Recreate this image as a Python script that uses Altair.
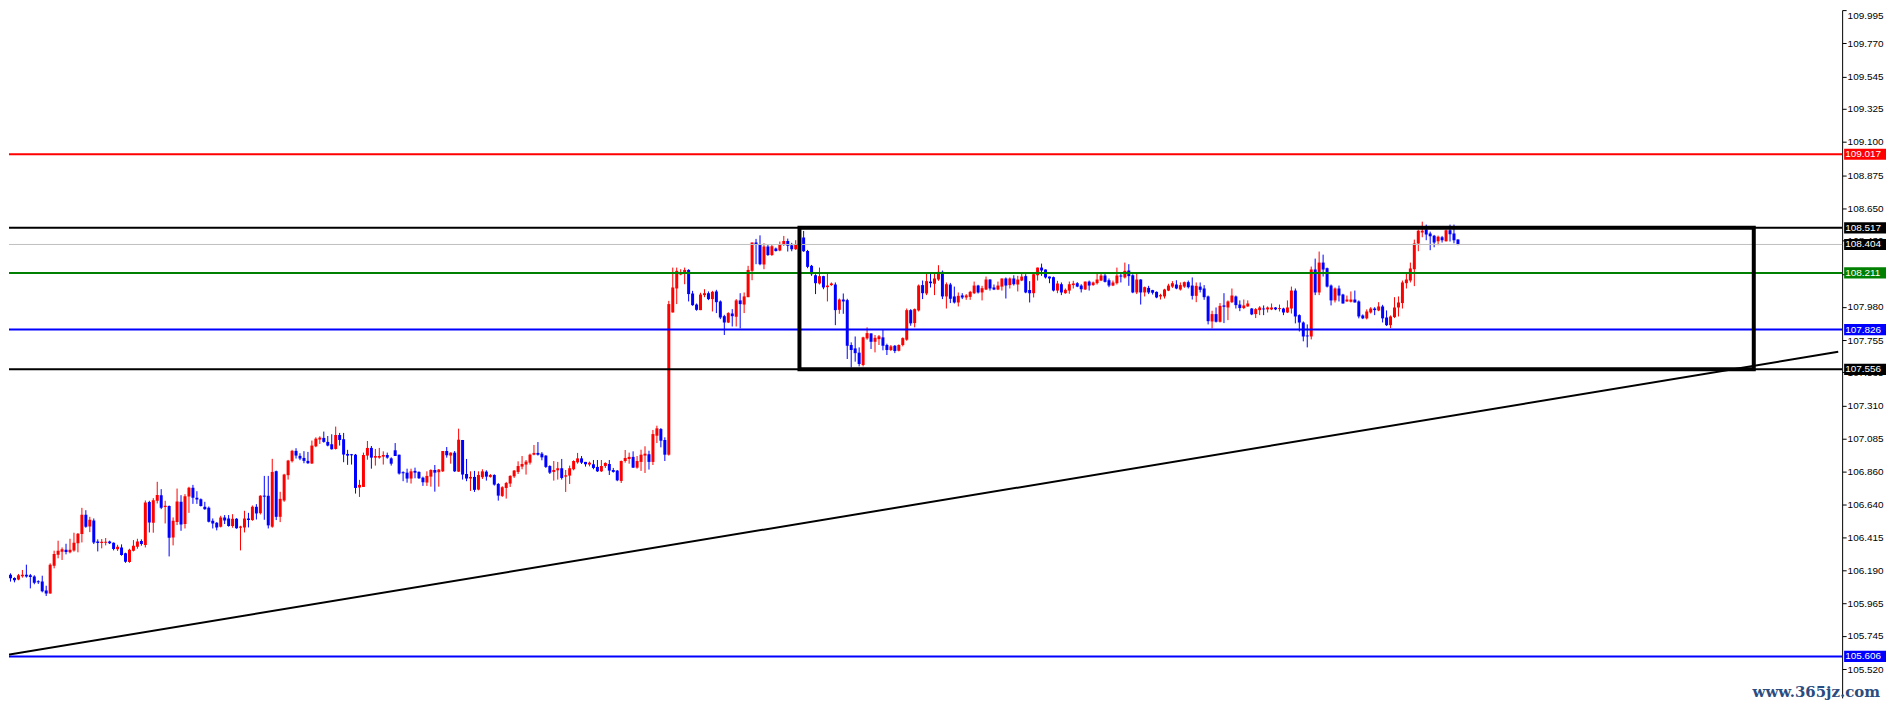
import altair as alt
import pandas as pd

# ---------------- candle data ----------------
opens = [
    106.114, 106.161, 106.138, 106.129, 106.150, 106.161, 106.157, 106.148, 106.116, 106.114,
    106.053, 106.034, 106.222, 106.297, 106.317, 106.331, 106.313, 106.326, 106.374, 106.437,
    106.568, 106.489, 106.529, 106.387, 106.376, 106.378, 106.387, 106.378, 106.333, 106.346,
    106.306, 106.247, 106.324, 106.351, 106.389, 106.362, 106.654, 106.514, 106.663, 106.701,
    106.620, 106.627, 106.414, 106.518, 106.656, 106.505, 106.692, 106.751, 106.683, 106.674,
    106.622, 106.615, 106.527, 106.514, 106.487, 106.550, 106.543, 106.491, 106.541, 106.480,
    106.482, 106.543, 106.532, 106.622, 106.579, 106.697, 106.697, 106.487, 106.864, 106.554,
    106.665, 106.837, 106.932, 107.002, 106.968, 106.954, 106.934, 106.916, 107.033, 107.079,
    107.090, 107.063, 107.047, 107.015, 107.110, 107.081, 106.981, 106.979, 106.976, 106.753,
    106.757, 106.970, 107.022, 106.956, 106.956, 106.963, 106.974, 106.951, 107.006, 106.976,
    106.857, 106.854, 106.814, 106.866, 106.859, 106.820, 106.787, 106.827, 106.872, 106.857,
    106.863, 107.001, 106.970, 106.990, 106.861, 107.076, 106.845, 106.814, 106.825, 106.739,
    106.823, 106.861, 106.825, 106.838, 106.777, 106.696, 106.750, 106.780, 106.829, 106.859,
    106.895, 106.909, 106.922, 106.976, 106.988, 106.983, 106.970, 106.899, 106.859, 106.870,
    106.884, 106.827, 106.834, 106.877, 106.924, 106.951, 106.927, 106.909, 106.911, 106.893,
    106.863, 106.899, 106.913, 106.872, 106.868, 106.798, 106.933, 106.947, 106.961, 106.888,
    106.927, 106.970, 106.979, 106.927, 107.105, 107.150, 107.076, 106.976, 107.942, 108.105,
    108.200, 108.213, 108.231, 108.071, 107.996, 107.958, 108.060, 108.073, 108.033, 108.085,
    108.017, 107.917, 107.874, 107.935, 107.913, 108.024, 107.996, 108.046, 108.225, 108.417,
    108.408, 108.268, 108.390, 108.333, 108.376, 108.363, 108.401, 108.428, 108.399, 108.372,
    108.408, 108.451, 108.360, 108.259, 108.195, 108.139, 108.189, 108.114, 108.128, 108.132,
    107.960, 108.030, 108.026, 107.721, 107.698, 107.669, 107.585, 107.766, 107.800, 107.743,
    107.761, 107.773, 107.721, 107.687, 107.716, 107.682, 107.721, 107.757, 107.958, 107.870,
    107.956, 108.128, 108.071, 108.152, 108.137, 108.166, 108.218, 108.051, 108.132, 108.051,
    108.010, 108.058, 108.044, 108.048, 108.073, 108.125, 108.078, 108.098, 108.166, 108.112,
    108.098, 108.118, 108.173, 108.128, 108.173, 108.132, 108.159, 108.189, 108.094, 108.073,
    108.195, 108.247, 108.234, 108.186, 108.182, 108.091, 108.134, 108.073, 108.091, 108.128,
    108.141, 108.125, 108.098, 108.152, 108.128, 108.141, 108.159, 108.193, 108.161, 108.125,
    108.141, 108.193, 108.180, 108.227, 108.195, 108.078, 108.166, 108.078, 108.109, 108.094,
    108.082, 108.051, 108.051, 108.091, 108.118, 108.132, 108.098, 108.118, 108.148, 108.125,
    108.055, 108.118, 108.105, 108.051, 107.881, 107.931, 107.879, 107.990, 107.976, 108.012,
    108.051, 107.996, 107.972, 107.983, 107.969, 107.931, 107.958, 107.969, 107.963, 107.963,
    107.976, 107.965, 107.969, 107.942, 107.969, 108.091, 107.924, 107.874, 107.784, 107.779,
    108.234, 108.078, 108.281, 108.243, 108.125, 108.024, 108.105, 108.064, 108.017, 108.015,
    108.030, 108.017, 107.922, 107.902, 107.942, 107.969, 107.956, 107.983, 107.908, 107.856,
    107.911, 107.976, 108.006, 108.141, 108.159, 108.236, 108.410, 108.485, 108.505, 108.478,
    108.464, 108.426, 108.453, 108.426, 108.500, 108.478, 108.437,
]
highs = [
    106.193, 106.170, 106.143, 106.166, 106.193, 106.229, 106.166, 106.157, 106.123, 106.154,
    106.086, 106.238, 106.324, 106.392, 106.346, 106.371, 106.405, 106.446, 106.444, 106.615,
    106.599, 106.554, 106.543, 106.401, 106.403, 106.410, 106.392, 106.380, 106.364, 106.367,
    106.310, 106.337, 106.396, 106.405, 106.401, 106.665, 106.663, 106.681, 106.792, 106.742,
    106.663, 106.631, 106.550, 106.746, 106.701, 106.708, 106.758, 106.771, 106.728, 106.679,
    106.656, 106.624, 106.543, 106.518, 106.561, 106.566, 106.566, 106.572, 106.545, 106.493,
    106.595, 106.581, 106.631, 106.640, 106.701, 106.832, 106.832, 106.948, 106.868, 106.724,
    106.846, 106.941, 107.009, 107.020, 106.986, 107.000, 106.995, 107.072, 107.094, 107.101,
    107.133, 107.103, 107.115, 107.167, 107.124, 107.124, 107.009, 106.981, 106.981, 106.805,
    106.990, 107.069, 107.035, 107.015, 107.022, 106.999, 106.990, 106.958, 107.055, 106.976,
    106.863, 106.881, 106.881, 106.888, 106.863, 106.827, 106.863, 106.877, 106.906, 106.879,
    107.001, 107.028, 106.992, 107.001, 107.153, 107.076, 106.947, 106.863, 106.866, 106.863,
    106.877, 106.870, 106.845, 106.843, 106.784, 106.762, 106.791, 106.836, 106.872, 106.931,
    106.967, 106.940, 106.983, 107.042, 107.062, 106.994, 106.972, 106.904, 106.933, 106.927,
    106.947, 106.872, 106.902, 106.938, 106.988, 106.967, 106.927, 106.929, 106.940, 106.940,
    106.940, 106.924, 106.940, 106.886, 106.872, 106.936, 107.008, 106.990, 106.999, 106.967,
    107.010, 107.033, 107.003, 107.144, 107.173, 107.157, 107.094, 108.021, 108.247, 108.247,
    108.236, 108.247, 108.236, 108.089, 108.003, 108.076, 108.100, 108.085, 108.089, 108.096,
    108.024, 107.926, 107.944, 107.965, 108.033, 108.073, 108.078, 108.259, 108.417, 108.442,
    108.466, 108.412, 108.403, 108.401, 108.383, 108.424, 108.462, 108.444, 108.415, 108.433,
    108.462, 108.496, 108.367, 108.265, 108.202, 108.247, 108.191, 108.213, 108.146, 108.146,
    108.037, 108.071, 108.035, 107.739, 107.779, 107.705, 107.777, 107.841, 107.800, 107.789,
    107.789, 107.829, 107.730, 107.721, 107.721, 107.725, 107.773, 107.969, 107.965, 107.969,
    108.132, 108.159, 108.209, 108.213, 108.209, 108.263, 108.227, 108.146, 108.143, 108.118,
    108.078, 108.073, 108.067, 108.089, 108.152, 108.130, 108.123, 108.186, 108.168, 108.132,
    108.152, 108.173, 108.180, 108.180, 108.195, 108.191, 108.213, 108.202, 108.155, 108.213,
    108.247, 108.274, 108.234, 108.186, 108.186, 108.157, 108.146, 108.105, 108.152, 108.157,
    108.148, 108.134, 108.152, 108.159, 108.152, 108.209, 108.213, 108.213, 108.173, 108.159,
    108.247, 108.216, 108.281, 108.270, 108.202, 108.209, 108.168, 108.118, 108.123, 108.096,
    108.085, 108.069, 108.103, 108.137, 108.155, 108.161, 108.146, 108.152, 108.159, 108.180,
    108.146, 108.146, 108.128, 108.057, 107.954, 107.976, 108.006, 108.073, 108.024, 108.105,
    108.057, 108.024, 108.030, 108.024, 107.972, 107.972, 107.985, 107.990, 107.983, 108.003,
    107.978, 107.996, 107.974, 108.024, 108.118, 108.105, 107.929, 107.881, 107.861, 108.254,
    108.308, 108.356, 108.335, 108.247, 108.132, 108.112, 108.125, 108.069, 108.057, 108.085,
    108.091, 108.024, 107.929, 107.963, 107.978, 107.978, 108.012, 107.994, 107.956, 107.922,
    108.046, 108.051, 108.159, 108.209, 108.281, 108.437, 108.505, 108.559, 108.539, 108.491,
    108.469, 108.464, 108.462, 108.505, 108.539, 108.539, 108.439,
]
lows = [
    106.096, 106.114, 106.109, 106.123, 106.141, 106.141, 106.068, 106.096, 106.098, 106.041,
    106.016, 106.032, 106.204, 106.272, 106.261, 106.299, 106.306, 106.317, 106.313, 106.380,
    106.480, 106.450, 106.369, 106.319, 106.340, 106.360, 106.369, 106.326, 106.322, 106.290,
    106.242, 106.242, 106.319, 106.337, 106.358, 106.346, 106.448, 106.446, 106.645, 106.606,
    106.509, 106.285, 106.360, 106.498, 106.459, 106.475, 106.581, 106.642, 106.642, 106.624,
    106.602, 106.516, 106.475, 106.462, 106.482, 106.505, 106.487, 106.480, 106.473, 106.326,
    106.448, 106.482, 106.527, 106.536, 106.570, 106.534, 106.475, 106.480, 106.532, 106.518,
    106.656, 106.807, 106.923, 106.950, 106.939, 106.918, 106.914, 106.914, 107.027, 107.049,
    107.058, 107.033, 107.011, 107.011, 107.038, 106.925, 106.907, 106.909, 106.712, 106.689,
    106.757, 106.942, 106.881, 106.902, 106.949, 106.909, 106.949, 106.902, 106.967, 106.841,
    106.796, 106.786, 106.780, 106.816, 106.811, 106.764, 106.764, 106.759, 106.725, 106.759,
    106.859, 106.956, 106.915, 106.859, 106.859, 106.807, 106.796, 106.730, 106.723, 106.734,
    106.811, 106.800, 106.820, 106.766, 106.664, 106.689, 106.678, 106.757, 106.818, 106.845,
    106.877, 106.841, 106.909, 106.972, 106.970, 106.938, 106.886, 106.845, 106.800, 106.807,
    106.807, 106.723, 106.777, 106.870, 106.915, 106.913, 106.895, 106.897, 106.877, 106.859,
    106.859, 106.886, 106.838, 106.854, 106.796, 106.784, 106.922, 106.915, 106.886, 106.881,
    106.866, 106.852, 106.875, 106.906, 107.055, 107.026, 106.933, 106.970, 107.942, 107.999,
    108.195, 108.134, 108.017, 107.987, 107.954, 107.958, 108.046, 108.026, 107.949, 107.938,
    107.897, 107.789, 107.870, 107.847, 107.847, 107.834, 107.938, 108.046, 108.161, 108.270,
    108.263, 108.236, 108.326, 108.326, 108.356, 108.358, 108.394, 108.356, 108.358, 108.367,
    108.394, 108.354, 108.243, 108.191, 108.067, 108.132, 108.100, 108.017, 108.123, 107.856,
    107.933, 107.933, 107.626, 107.569, 107.608, 107.576, 107.576, 107.757, 107.694, 107.671,
    107.721, 107.685, 107.653, 107.680, 107.666, 107.678, 107.712, 107.750, 107.852, 107.841,
    107.949, 108.033, 108.060, 108.112, 108.060, 108.157, 108.033, 107.969, 108.006, 108.003,
    107.983, 108.033, 108.028, 108.028, 108.067, 108.071, 108.024, 108.094, 108.091, 108.094,
    108.094, 108.091, 108.037, 108.105, 108.125, 108.085, 108.155, 108.073, 108.010, 108.044,
    108.159, 108.191, 108.173, 108.141, 108.085, 108.073, 108.060, 108.069, 108.069, 108.105,
    108.114, 108.078, 108.096, 108.091, 108.123, 108.132, 108.155, 108.146, 108.114, 108.121,
    108.132, 108.146, 108.173, 108.123, 108.073, 108.067, 107.996, 108.051, 108.067, 108.064,
    108.039, 108.030, 108.037, 108.087, 108.109, 108.100, 108.091, 108.109, 108.105, 108.030,
    108.012, 108.078, 108.028, 107.861, 107.834, 107.874, 107.874, 107.870, 107.890, 108.006,
    107.969, 107.951, 107.965, 107.981, 107.924, 107.904, 107.924, 107.924, 107.942, 107.958,
    107.958, 107.949, 107.924, 107.938, 107.935, 107.868, 107.813, 107.746, 107.705, 107.759,
    108.060, 108.060, 108.186, 108.112, 107.990, 108.010, 108.017, 108.003, 108.015, 108.010,
    108.010, 107.902, 107.897, 107.895, 107.935, 107.924, 107.951, 107.874, 107.850, 107.836,
    107.904, 107.915, 107.969, 108.105, 108.146, 108.121, 108.358, 108.453, 108.433, 108.365,
    108.385, 108.399, 108.417, 108.424, 108.424, 108.412, 108.399,
]
closes = [
    106.163, 106.136, 106.123, 106.157, 106.161, 106.148, 106.145, 106.107, 106.109, 106.048,
    106.034, 106.229, 106.301, 106.324, 106.333, 106.315, 106.331, 106.378, 106.439, 106.568,
    106.487, 106.534, 106.380, 106.376, 106.385, 106.385, 106.374, 106.335, 106.351, 106.294,
    106.249, 106.331, 106.358, 106.387, 106.369, 106.651, 106.516, 106.667, 106.703, 106.615,
    106.629, 106.412, 106.527, 106.658, 106.502, 106.694, 106.751, 106.683, 106.672, 106.627,
    106.606, 106.520, 106.509, 106.482, 106.550, 106.529, 106.491, 106.541, 106.477, 106.489,
    106.543, 106.532, 106.622, 106.577, 106.697, 106.694, 106.496, 106.859, 106.554, 106.676,
    106.841, 106.936, 107.002, 106.970, 106.950, 106.934, 106.918, 107.038, 107.085, 107.092,
    107.063, 107.038, 107.013, 107.110, 107.076, 106.977, 106.970, 106.972, 106.750, 106.771,
    106.974, 107.022, 106.956, 106.967, 106.967, 106.974, 106.956, 106.915, 106.967, 106.848,
    106.850, 106.814, 106.863, 106.854, 106.816, 106.789, 106.832, 106.872, 106.854, 106.875,
    107.001, 106.972, 106.990, 106.863, 107.078, 106.841, 106.814, 106.825, 106.737, 106.838,
    106.863, 106.827, 106.838, 106.773, 106.698, 106.755, 106.784, 106.832, 106.868, 106.899,
    106.913, 106.929, 106.976, 106.988, 106.976, 106.958, 106.893, 106.854, 106.872, 106.884,
    106.818, 106.836, 106.884, 106.933, 106.951, 106.922, 106.911, 106.922, 106.886, 106.863,
    106.899, 106.920, 106.868, 106.859, 106.802, 106.933, 106.954, 106.961, 106.888, 106.933,
    106.976, 106.983, 106.927, 107.116, 107.155, 107.071, 106.976, 107.999, 108.112, 108.225,
    108.213, 108.231, 108.067, 107.992, 107.960, 108.064, 108.073, 108.033, 108.082, 108.012,
    107.908, 107.874, 107.938, 107.917, 108.024, 107.999, 108.051, 108.231, 108.417, 108.401,
    108.270, 108.390, 108.333, 108.392, 108.360, 108.408, 108.428, 108.396, 108.372, 108.408,
    108.451, 108.358, 108.252, 108.202, 108.141, 108.189, 108.112, 108.125, 108.139, 107.958,
    108.030, 108.017, 107.716, 107.687, 107.666, 107.592, 107.773, 107.802, 107.743, 107.770,
    107.780, 107.716, 107.687, 107.712, 107.680, 107.721, 107.768, 107.958, 107.868, 107.965,
    108.125, 108.073, 108.155, 108.141, 108.173, 108.218, 108.051, 108.134, 108.035, 108.010,
    108.055, 108.044, 108.058, 108.082, 108.125, 108.078, 108.107, 108.166, 108.105, 108.098,
    108.125, 108.173, 108.125, 108.173, 108.134, 108.166, 108.186, 108.078, 108.073, 108.202,
    108.247, 108.227, 108.180, 108.173, 108.091, 108.139, 108.078, 108.096, 108.134, 108.139,
    108.118, 108.100, 108.152, 108.125, 108.146, 108.166, 108.193, 108.150, 108.125, 108.146,
    108.193, 108.186, 108.225, 108.189, 108.078, 108.166, 108.078, 108.114, 108.078, 108.076,
    108.044, 108.060, 108.098, 108.125, 108.141, 108.105, 108.128, 108.148, 108.114, 108.055,
    108.123, 108.096, 108.046, 107.883, 107.931, 107.879, 107.987, 107.981, 108.017, 108.057,
    107.992, 107.972, 107.990, 108.003, 107.929, 107.965, 107.976, 107.963, 107.976, 107.976,
    107.963, 107.969, 107.942, 107.976, 108.091, 107.915, 107.874, 107.779, 107.782, 108.234,
    108.078, 108.281, 108.234, 108.118, 108.024, 108.105, 108.057, 108.003, 108.030, 108.030,
    108.010, 107.915, 107.902, 107.949, 107.969, 107.958, 107.983, 107.902, 107.856, 107.915,
    107.976, 108.010, 108.146, 108.166, 108.241, 108.410, 108.498, 108.498, 108.471, 108.460,
    108.417, 108.457, 108.433, 108.500, 108.473, 108.433, 108.404,
]

# ---------------- price axis and annotations ----------------
tick_values = [109.995, 109.770, 109.545, 109.325, 109.100, 108.875, 108.650, 108.430,
               108.205, 107.980, 107.755, 107.535, 107.310, 107.085, 106.860, 106.640,
               106.415, 106.190, 105.965, 105.745, 105.520]

level_prices = [109.017, 108.517, 108.404, 108.211, 107.826, 107.556, 105.606]
level_colors = ["#ff0000", "#000000", "#c0c0c0", "#008000", "#0000ff", "#000000", "#0000ff"]
level_widths = [2, 2, 1, 2, 2, 2, 2]
label_bg = ["#ff0000", "#000000", "#000000", "#008000", "#0000ff", "#000000", "#0000ff"]
label_text = ["109.017", "108.517", "108.404", "108.211", "107.826", "107.556", "105.606"]

box_idx = [199.95, 440.6]
box_price = [107.556, 108.517]

trend_idx = [-0.125, 461.9]
trend_price = [105.615, 107.675]

watermark = ["www.365jz.com"]

# ---------------- layout ----------------
W, H = 1839, 690
X_DOMAIN = [1.875, 1.875 + W / 4]
Y_DOMAIN = [105.324, 109.996]

candles = pd.DataFrame({
    "idx": list(range(len(opens))),
    "open": opens, "high": highs, "low": lows, "close": closes,
})
candles["dir"] = ["up" if c >= o else "down" for o, c in zip(opens, closes)]

levels = pd.DataFrame({"price": level_prices, "color": level_colors, "width": level_widths})
labels = pd.DataFrame({"price": level_prices, "bg": label_bg, "text": label_text})
box = pd.DataFrame({"x0": [box_idx[0]], "x1": [box_idx[1]],
                    "y0": [box_price[0]], "y1": [box_price[1]]})
trend = pd.DataFrame({"idx": trend_idx, "price": trend_price})
wm = pd.DataFrame({"t": watermark})

xs = alt.Scale(domain=X_DOMAIN, nice=False, zero=False)
ys = alt.Scale(domain=Y_DOMAIN, nice=False, zero=False)
cs = alt.Scale(domain=["up", "down"], range=["#ff0000", "#0000ff"])

yaxis = alt.Axis(
    orient="right", values=tick_values, format=".3f", title=None, grid=False,
    domainColor="#000000", domainWidth=1, tickColor="#000000", tickSize=4, tickWidth=1,
    labelPadding=1, labelFont="Liberation Sans", labelFontSize=10, labelColor="#000000",
    labelOverlap=False,
    labelBaseline={"condition": {"test": "datum.value > 109.9", "value": "top"}, "value": "middle"},
)


def Y(field):
    return alt.Y(field, scale=ys, axis=yaxis)


X = alt.X("idx:Q", scale=xs, axis=None)
color = alt.Color("dir:N", scale=cs, legend=None)

base = alt.Chart(candles)

wicks = base.mark_rule(strokeWidth=1, clip=True).encode(
    x=X, y=Y("low:Q"), y2="high:Q", color=color)

bodies = base.mark_bar(size=3, clip=True).encode(
    x=X, y=Y("open:Q"), y2="close:Q", color=color)

doji = base.transform_filter("abs(datum.open - datum.close) < 0.006").mark_tick(
    orient="horizontal", size=3, thickness=1, clip=True).encode(
    x=X, y=Y("close:Q"), color=color)

level_rules = alt.Chart(levels).mark_rule().encode(
    y=Y("price:Q"),
    color=alt.Color("color:N", scale=None),
    strokeWidth=alt.StrokeWidth("width:Q", scale=None),
)

trend_line = alt.Chart(trend).mark_line(color="#000000", strokeWidth=2, clip=True).encode(
    x=alt.X("idx:Q", scale=xs, axis=None), y=Y("price:Q"))

box_rect = alt.Chart(box).mark_rect(fillOpacity=0, stroke="#000000", strokeWidth=4, clip=True).encode(
    x=alt.X("x0:Q", scale=xs, axis=None), x2="x1:Q", y=Y("y0:Q"), y2="y1:Q")

label_boxes = alt.Chart(labels).transform_calculate(
    lo="datum.price - 0.038", hi="datum.price + 0.038"
).mark_rect().encode(
    y=Y("lo:Q"), y2="hi:Q",
    x=alt.value(W + 2), x2=alt.value(W + 44),
    color=alt.Color("bg:N", scale=None),
)

label_texts = alt.Chart(labels).mark_text(
    align="left", baseline="middle", font="Liberation Sans", fontSize=10, color="#ffffff"
).encode(y=Y("price:Q"), x=alt.value(W + 3), text="text:N")

wm_text = alt.Chart(wm).mark_text(
    align="right", baseline="alphabetic", font="DejaVu Serif", fontSize=15,
    fontWeight="bold", color="#2b4c80"
).encode(x=alt.value(W + 38), y=alt.value(H - 1), text="t:N")

chart = alt.layer(
    wicks, bodies, doji, level_rules, trend_line, box_rect, label_boxes, label_texts, wm_text
).properties(width=W, height=H, padding=0, background="#ffffff").configure_view(stroke=None)

chart.save("out.html", embed_options={"renderer": "svg", "actions": False})
